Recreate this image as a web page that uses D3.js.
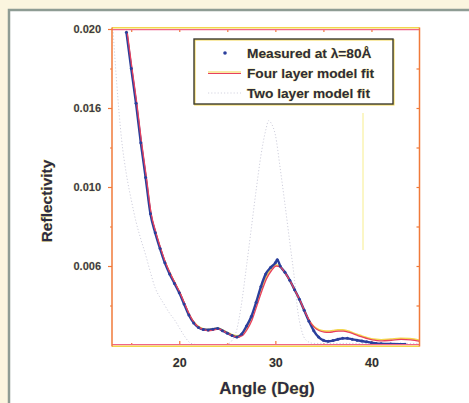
<!DOCTYPE html>
<html><head><meta charset="utf-8">
<script src="https://cdn.jsdelivr.net/npm/d3@7"></script>
<style>
html,body{margin:0;padding:0;background:#fbf5df;}
svg{display:block;}
text{font-family:"Liberation Sans",Arial,sans-serif;font-weight:bold;}
</style></head>
<body>
<svg id="c" width="469" height="403"></svg>
<script>
// ---- data ----
const measAngle = [14.5,15,15.5,16,16.5,17,17.5,18,18.5,19,19.5,20,20.5,21,21.5,22,22.5,23,23.5,24,24.5,25,25.5,26,26.5,27,27.5,28,28.5,29,29.5,30,30.2,30.5,31,31.5,32,32.5,33,33.5,34,34.5,35,35.5,36,36.5,37,37.5,38,38.5,39,39.5,40,40.5,41,42,43,43.5];
const measR = [0.0198,0.0175,0.0153,0.0128,0.0106,0.0083,0.0071,0.0061,0.0052,0.0045,0.0039,0.0033,0.0026,0.0019,0.0014,0.0011,0.00098,0.00095,0.0010,0.00105,0.0009,0.00075,0.0006,0.0005,0.0007,0.0012,0.0018,0.0027,0.0037,0.0045,0.0049,0.0052,0.0054,0.0050,0.0046,0.0041,0.0035,0.0029,0.0022,0.0015,0.0009,0.0005,0.0003,0.00024,0.00028,0.00036,0.00042,0.00042,0.00036,0.0003,0.00025,0.0002,0.00015,0.0001,0.00008,0.00006,0.00005,0.00005];
const fourAngle = [14.5,15,15.5,16,16.5,17,17.5,18,18.5,19,19.5,20,20.5,21,21.5,22,22.5,23,23.5,24,24.5,25,25.5,26,26.5,27,27.5,28,28.5,29,29.5,30,30.5,31,31.5,32,32.5,33,33.5,34,34.5,35,35.5,36,36.5,37,37.5,38,38.5,39,39.5,40,40.5,41,42,43,44,45];
const fourR = [0.0198,0.0175,0.0153,0.0128,0.0106,0.0083,0.0071,0.0061,0.0052,0.0045,0.0039,0.0033,0.0026,0.0019,0.0014,0.0011,0.00095,0.0009,0.00095,0.001,0.00088,0.00072,0.00058,0.0005,0.0006,0.001,0.0016,0.0025,0.0034,0.0042,0.0047,0.0050,0.0049,0.0045,0.0040,0.0034,0.0028,0.0021,0.0015,0.0011,0.0009,0.00082,0.0008,0.00084,0.00088,0.00088,0.00082,0.00072,0.0006,0.0005,0.0004,0.00032,0.00028,0.00026,0.0003,0.00035,0.00033,0.00022];
const twoAngle = [13.1,13.5,14,14.5,15,15.5,16,16.5,17,17.5,18,18.5,19,19.5,20,20.5,21,21.5,22,23,24,25,25.5,26,26.4,27,27.5,28,28.5,29,29.3,29.6,30,30.5,31,31.5,32,32.3,32.7,33.2,34,36,38,40,42,44,45];
const twoR = [0.0200,0.0165,0.0130,0.0108,0.0092,0.0078,0.0067,0.0057,0.0046,0.0036,0.0030,0.0025,0.0020,0.0016,0.0011,0.0006,0.0002,0.00005,0.00002,0.00001,0.00001,0.00005,0.0003,0.0010,0.0023,0.0050,0.0074,0.0098,0.0120,0.0136,0.0142,0.0140,0.0133,0.0112,0.0089,0.0065,0.0041,0.0023,0.0010,0.0003,0.0001,0.0001,0.0001,0.0001,0.0001,0.0001,0.0001];
const xTicks = [20,30,40];
const xTickLabels = ["20","30","40"];
const yTicks = [0.005,0.010,0.015,0.020];
const yTickLabels = ["0.006","0.010","0.016","0.020"];
const legendLabels = ["Measured at \u03bb=80\u00c5","Four layer model fit","Two layer model fit"];

// ---- chart ----
const svg = d3.select("#c");
// frame
svg.append("rect").attr("x",9).attr("y",10).attr("width",480).attr("height",420)
  .attr("fill","#ffffff").attr("stroke","#8e9c94").attr("stroke-width",2.5);

const L=112, R=419.5, T=29, B=345;
const x = d3.scaleLinear().domain([13,45]).range([L,R]);
const y = d3.scaleLinear().domain([0,0.020]).range([B,T]);

const axC = "#f07a3a", pink="#f0648a", yel="#f3d64c";

// minor / major ticks
const gx = svg.append("g").attr("transform",`translate(0,${B})`)
  .call(d3.axisBottom(x).tickValues(xTicks).tickFormat((d,i)=>xTickLabels[i]).tickSize(-4).tickPadding(13));
const gxm = svg.append("g").attr("transform",`translate(0,${B})`)
  .call(d3.axisBottom(x).tickValues([15,25,35]).tickFormat("").tickSize(-2));
const gxt = svg.append("g").attr("transform",`translate(0,${T})`)
  .call(d3.axisTop(x).tickValues([15,20,25,30,35,40]).tickFormat("").tickSize(-3));
const gy = svg.append("g").attr("transform",`translate(${L},0)`)
  .call(d3.axisLeft(y).tickValues(yTicks).tickFormat((d,i)=>yTickLabels[i]).tickSize(4).tickPadding(7));
const gym = svg.append("g").attr("transform",`translate(${L},0)`)
  .call(d3.axisLeft(y).tickValues([0.0025,0.0075,0.0125,0.0175]).tickFormat("").tickSize(2));
const gyr = svg.append("g").attr("transform",`translate(${R},0)`)
  .call(d3.axisRight(y).tickValues([0.0025,0.005,0.0075,0.010,0.0125,0.015,0.0175]).tickFormat("").tickSize(-3));
[gx,gxm,gxt,gy,gym,gyr].forEach(g=>{g.select(".domain").remove();g.selectAll("line").attr("stroke",axC).attr("stroke-width",1.2);});
gx.selectAll("text").attr("font-size",12.5).attr("fill","#2c2c3a")
  .attr("stroke","#f0e070").attr("stroke-width",0.4).attr("paint-order","stroke");
gy.selectAll("text").attr("font-size",11).attr("fill","#3a3a4a").attr("dy","0.35em")
  .attr("stroke","#f0e070").attr("stroke-width",0.4).attr("paint-order","stroke");

// artifact yellow line (scan)
svg.append("line").attr("x1",363).attr("x2",363).attr("y1",113).attr("y2",250).attr("stroke","#f7ea70").attr("stroke-width",1).attr("opacity",0.8);

// curves
const line = d3.line().x(d=>x(d[0])).y(d=>y(d[1])).curve(d3.curveMonotoneX);
const twoData = twoAngle.map((a,i)=>[a,twoR[i]]);
const fourData = fourAngle.map((a,i)=>[a,fourR[i]]);
const measData = measAngle.map((a,i)=>[a,measR[i]]);

svg.append("clipPath").attr("id","pc").append("rect").attr("x",L).attr("y",T).attr("width",R-L).attr("height",B-T);
const pg = svg.append("g").attr("clip-path","url(#pc)");
pg.append("path").datum(twoData).attr("d",line).attr("fill","none").attr("stroke","#cfcfdc").attr("stroke-width",1).attr("stroke-dasharray","1.2,2");
pg.append("path").datum(fourData).attr("d",line).attr("fill","none").attr("stroke",yel).attr("stroke-width",1.6).attr("transform","translate(0,-1.2)");
pg.append("path").datum(measData).attr("d",line).attr("fill","none").attr("stroke","#2b3f9c").attr("stroke-width",2.4);
pg.append("path").datum(fourData).attr("d",line).attr("fill","none").attr("stroke","#e8405e").attr("stroke-width",1.3).attr("transform","translate(0.8,0)");
pg.selectAll("circle.m").data(measData).enter().append("circle").attr("class","m")
  .attr("cx",d=>x(d[0])).attr("cy",d=>y(d[1])).attr("r",1.5).attr("fill","#2b3f9c");

// axis box lines
svg.append("line").attr("x1",L).attr("x2",R).attr("y1",T-1.2).attr("y2",T-1.2).attr("stroke",yel).attr("stroke-width",1.4);
svg.append("line").attr("x1",L).attr("x2",R).attr("y1",T+0.6).attr("y2",T+0.6).attr("stroke",pink).attr("stroke-width",1.2);
svg.append("line").attr("x1",L).attr("x2",R).attr("y1",B-0.4).attr("y2",B-0.4).attr("stroke",pink).attr("stroke-width",1.2);
svg.append("line").attr("x1",L).attr("x2",R).attr("y1",B+1.2).attr("y2",B+1.2).attr("stroke",yel).attr("stroke-width",1.4);
svg.append("line").attr("x1",L).attr("x2",L).attr("y1",T-1.5).attr("y2",B+1.5).attr("stroke",axC).attr("stroke-width",1.5);
svg.append("line").attr("x1",R).attr("x2",R).attr("y1",T-1.5).attr("y2",B+1.5).attr("stroke",axC).attr("stroke-width",1.5);

// legend
const lg = svg.append("g");
lg.append("rect").attr("x",194).attr("y",39).attr("width",199).attr("height",65)
  .attr("fill","#ffffff").attr("stroke",yel).attr("stroke-width",1.4).attr("transform","translate(0.8,0.8)");
lg.append("rect").attr("x",194).attr("y",39).attr("width",199).attr("height",65)
  .attr("fill","none").attr("stroke","#3c3c34").attr("stroke-width",1.4);
lg.append("circle").attr("cx",225).attr("cy",53).attr("r",1.8).attr("fill","#2b3f9c");
lg.append("line").attr("x1",208).attr("x2",241).attr("y1",72).attr("y2",72).attr("stroke",yel).attr("stroke-width",1.2);
lg.append("line").attr("x1",208).attr("x2",241).attr("y1",73.5).attr("y2",73.5).attr("stroke","#e8405e").attr("stroke-width",1.2);
lg.append("line").attr("x1",208).attr("x2",241).attr("y1",93).attr("y2",93).attr("stroke","#d4d4e0").attr("stroke-width",1).attr("stroke-dasharray","1.2,2");
legendLabels.forEach((t,i)=>{
  lg.append("text").attr("x",247).attr("y",58+i*20).attr("font-size",13.7).attr("fill","#2c2c3a")
    .attr("stroke","#efd860").attr("stroke-width",0.5).attr("paint-order","stroke").text(t);
});

// axis titles
svg.append("text").attr("x",267).attr("y",394).attr("text-anchor","middle").attr("font-size",17)
  .attr("fill","#2c2c44").attr("stroke","#efd860").attr("stroke-width",0.5).attr("paint-order","stroke").text("Angle (Deg)");
svg.append("text").attr("transform","translate(52,201) rotate(-90)").attr("text-anchor","middle").attr("font-size",15.5)
  .attr("fill","#2c2c44").attr("stroke","#efd860").attr("stroke-width",0.5).attr("paint-order","stroke").text("Reflectivity");
</script>
</body></html>
